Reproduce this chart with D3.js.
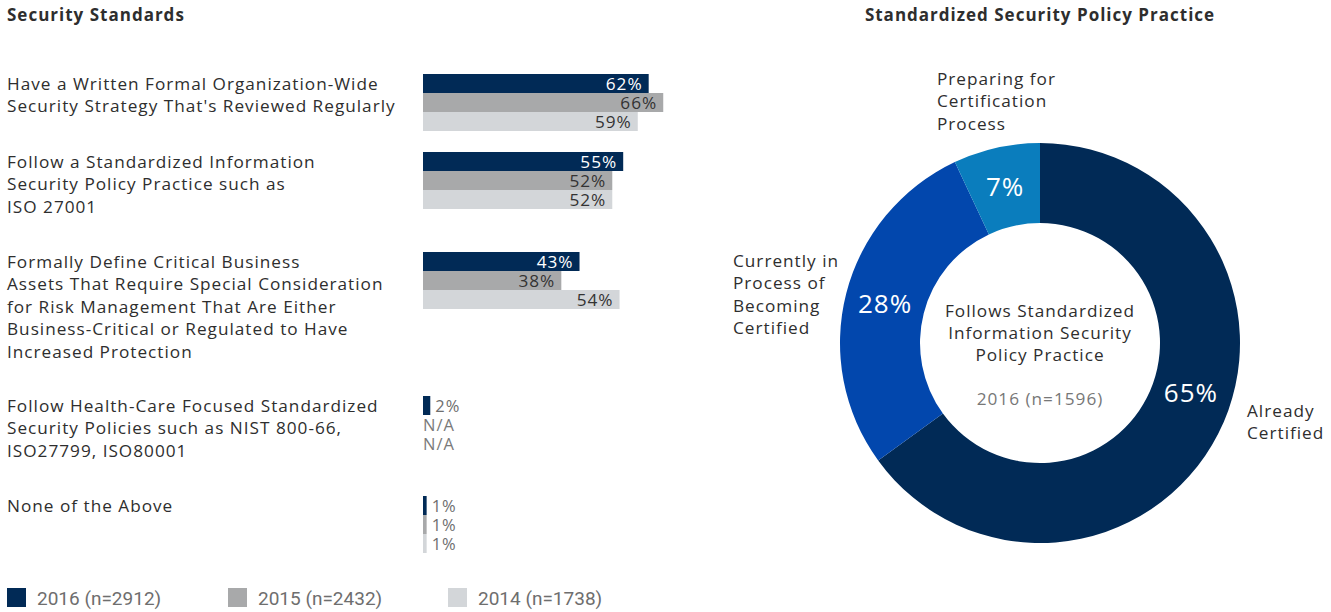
<!DOCTYPE html>
<html>
<head>
<meta charset="utf-8">
<script src="https://cdn.jsdelivr.net/npm/d3@7"></script>
<style>
  html, body { margin: 0; padding: 0; background: #fff; }
  svg { display: block; font-family: "Open Sans", "Liberation Sans", sans-serif; letter-spacing: 1px; }
</style>
</head>
<body>
<svg id="chart" width="1331" height="612"></svg>
<script>
// ---- Data ----
const categories = [
  ["Have a Written Formal Organization-Wide", "Security Strategy That's Reviewed Regularly"],
  ["Follow a Standardized Information", "Security Policy Practice such as", "ISO 27001"],
  ["Formally Define Critical Business", "Assets That Require Special Consideration", "for Risk Management That Are Either", "Business-Critical or Regulated to Have", "Increased Protection"],
  ["Follow Health-Care Focused Standardized", "Security Policies such as NIST 800-66,", "ISO27799, ISO80001"],
  ["None of the Above"]
];
const seriesNames = ["2016 (n=2912)", "2015 (n=2432)", "2014 (n=1738)"];
const values2016 = [62, 55, 43, 2, 1];
const values2015 = [66, 52, 38, null, 1];
const values2014 = [59, 52, 54, null, 1];

const donutLabels = [["Already", "Certified"], ["Currently in", "Process of", "Becoming", "Certified"], ["Preparing for", "Certification", "Process"]];
const donutValues = [65, 28, 7];
const donutCenterLines = ["Follows Standardized", "Information Security", "Policy Practice"];
const donutSample = "2016 (n=1596)";

// ---- Styles ----
const barColors = ["#012a56", "#a8a9aa", "#d3d6d9"];
const barTextColors = ["#ffffff", "#333333", "#333333"];
const donutColors = ["#012a56", "#0247ad", "#0a7dbd"];
const textDark = "#2e2e2e";
const textGray = "#6e6e6e";
const fs = 17.2;

const svg = d3.select("#chart");

// ---- Titles ----
svg.append("text").attr("x", 7).attr("y", 21)
  .attr("font-size", 17).attr("font-weight", 700).attr("fill", textDark)
  .text("Security Standards");
svg.append("text").attr("x", 1040).attr("y", 21).attr("text-anchor", "middle")
  .attr("font-size", 17).attr("font-weight", 700).attr("fill", textDark)
  .text("Standardized Security Policy Practice");

// ---- Grouped horizontal bars ----
const barX0 = 423;
const x = d3.scaleLinear().domain([0, 100]).range([0, 364]);
const lineH = 22.4;
const barH = 19;
const series = [values2016, values2015, values2014];

// vertical layout: each group is as tall as its label block, plus a gap
const groupTops = [];
let cursorY = 74;
categories.forEach(lines => {
  groupTops.push(cursorY);
  cursorY += lines.length * 22 + 34;
});

const yInner = d3.scaleBand().domain(d3.range(series.length)).range([0, barH * series.length]).padding(0);

const groups = svg.append("g").selectAll("g.group")
  .data(categories)
  .join("g").attr("class", "group")
  .attr("transform", (d, i) => `translate(0,${groupTops[i]})`);

groups.append("text")
  .attr("x", 7).attr("font-size", fs).attr("fill", textDark)
  .selectAll("tspan")
  .data(d => d)
  .join("tspan")
  .attr("x", 7)
  .attr("y", (d, j) => 16 + j * lineH)
  .text(d => d);

groups.each(function(_, i) {
  const g = d3.select(this);
  series.forEach((vals, s) => {
    const v = vals[i];
    const y0 = yInner(s);
    if (v == null) {
      g.append("text").attr("x", barX0).attr("y", y0 + barH / 2 + 6)
        .attr("font-size", 16.5).attr("fill", "#7a7a7a").text("N/A");
      return;
    }
    g.append("rect")
      .attr("x", barX0).attr("y", y0)
      .attr("width", x(v)).attr("height", barH)
      .attr("fill", barColors[s]);
    const inside = v >= 10;
    g.append("text")
      .attr("x", inside ? barX0 + x(v) - 6 : barX0 + x(v) + 5)
      .attr("y", y0 + barH / 2 + 6)
      .attr("text-anchor", inside ? "end" : "start")
      .attr("font-size", inside ? fs : 16.5)
      .attr("fill", inside ? barTextColors[s] : textGray)
      .text(v + "%");
  });
});

// ---- Legend ----
const legendX = [7, 228, 448];
const legend = svg.append("g").selectAll("g")
  .data(seriesNames)
  .join("g")
  .attr("transform", (d, i) => `translate(${legendX[i]},588)`);
legend.append("rect").attr("width", 19).attr("height", 19).attr("fill", (d, i) => barColors[i]);
legend.append("text").attr("x", 30).attr("y", 17)
  .attr("font-family", "Roboto, sans-serif").attr("letter-spacing", 0)
  .attr("font-size", 19).attr("fill", textGray).text(d => d);

// ---- Donut ----
const cx = 1040, cy = 343, rOuter = 200, rInner = 120;
const pie = d3.pie().sort(null).value(d => d);
const arc = d3.arc().innerRadius(rInner).outerRadius(rOuter);
const arcs = pie(donutValues);
const donut = svg.append("g").attr("transform", `translate(${cx},${cy})`);

donut.selectAll("path")
  .data(arcs)
  .join("path")
  .attr("d", arc)
  .attr("fill", (d, i) => donutColors[i]);

const labelArc = d3.arc().innerRadius(160).outerRadius(160);
donut.selectAll("text.pct")
  .data(arcs)
  .join("text").attr("class", "pct")
  .attr("transform", (d, i) => {
    let [lx, ly] = labelArc.centroid(d);
    if (i === 0) { // the large slice label sits a little before its mid-angle
      const a = d.startAngle + (d.endAngle - d.startAngle) * 0.463;
      lx = 159 * Math.sin(a); ly = -159 * Math.cos(a);
    }
    return `translate(${lx},${ly})`;
  })
  .attr("text-anchor", "middle").attr("dy", "0.36em")
  .attr("font-size", 26).attr("fill", "#fff")
  .text(d => d.data + "%");

// category callouts around the ring
const calloutPos = [[1247, 411], [733, 261], [937, 79]];
svg.append("g").selectAll("text")
  .data(donutLabels)
  .join("text")
  .attr("font-size", fs).attr("fill", textDark)
  .each(function(lines, i) {
    d3.select(this).selectAll("tspan").data(lines).join("tspan")
      .attr("x", calloutPos[i][0])
      .attr("y", (d, j) => calloutPos[i][1] + 6 + j * 22.3)
      .text(d => d);
  });

// center caption
const center = svg.append("g").attr("text-anchor", "middle");
center.selectAll("text.c")
  .data(donutCenterLines)
  .join("text").attr("class", "c")
  .attr("x", cx).attr("y", (d, j) => 317 + j * 22)
  .attr("font-size", fs).attr("fill", textDark)
  .text(d => d);
center.append("text").attr("x", cx).attr("y", 405)
  .attr("font-size", fs).attr("fill", "#777").text(donutSample);
</script>
</body>
</html>
